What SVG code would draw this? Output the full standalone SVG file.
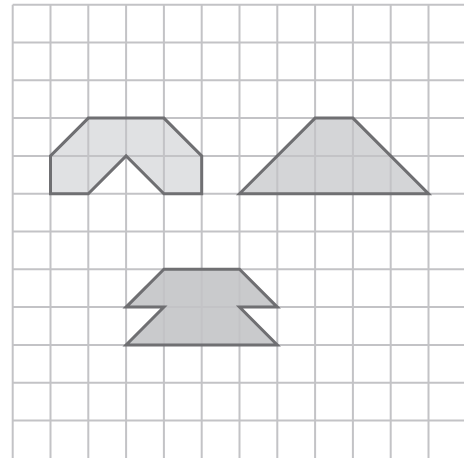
<svg xmlns="http://www.w3.org/2000/svg" width="464" height="458" viewBox="0 0 464 458">
<style>
.g{stroke:#c3c3c6;stroke-width:2;fill:none}
.o{fill:none;stroke:#6f6f72;stroke-width:3;stroke-linejoin:miter}
</style>
<rect width="464" height="458" fill="#ffffff"/>
<g id="fills" stroke="none">
<polygon fill="#e0e1e3" points="88.3,118.1 163.9,118.1 201.7,155.9 201.7,193.7 163.9,193.7 126.1,155.9 88.3,193.7 50.5,193.7 50.5,155.9"/>
<polygon fill="#d4d5d7" points="239.5,193.7 315.1,118.1 352.9,118.1 428.5,193.7"/>
<polygon fill="#c9cacc" points="163.9,269.3 239.5,269.3 277.3,307.1 239.5,307.1 277.3,344.9 126.1,344.9 163.9,307.1 126.1,307.1"/>
</g>
<g id="grid" class="g">
<path d="M12.7,4.7V458M50.5,4.7V458M88.3,4.7V458M126.1,4.7V458M163.9,4.7V458M201.7,4.7V458M239.5,4.7V458M277.3,4.7V458M315.1,4.7V458M352.9,4.7V458M390.7,4.7V458M428.5,4.7V458"/>
<path d="M12.7,4.7H464M12.7,42.5H464M12.7,80.3H464M12.7,118.1H464M12.7,155.9H464M12.7,193.7H464M12.7,231.5H464M12.7,269.3H464M12.7,307.1H464M12.7,344.9H464M12.7,382.7H464M12.7,420.5H464"/>
</g>
<g id="shape1"><polygon class="o" points="88.3,118.1 163.9,118.1 201.7,155.9 201.7,193.7 163.9,193.7 126.1,155.9 88.3,193.7 50.5,193.7 50.5,155.9"/></g>
<g id="shape2"><polygon class="o" points="239.5,193.7 315.1,118.1 352.9,118.1 428.5,193.7"/></g>
<g id="shape3"><polygon class="o" points="163.9,269.3 239.5,269.3 277.3,307.1 239.5,307.1 277.3,344.9 126.1,344.9 163.9,307.1 126.1,307.1"/></g>
</svg>
